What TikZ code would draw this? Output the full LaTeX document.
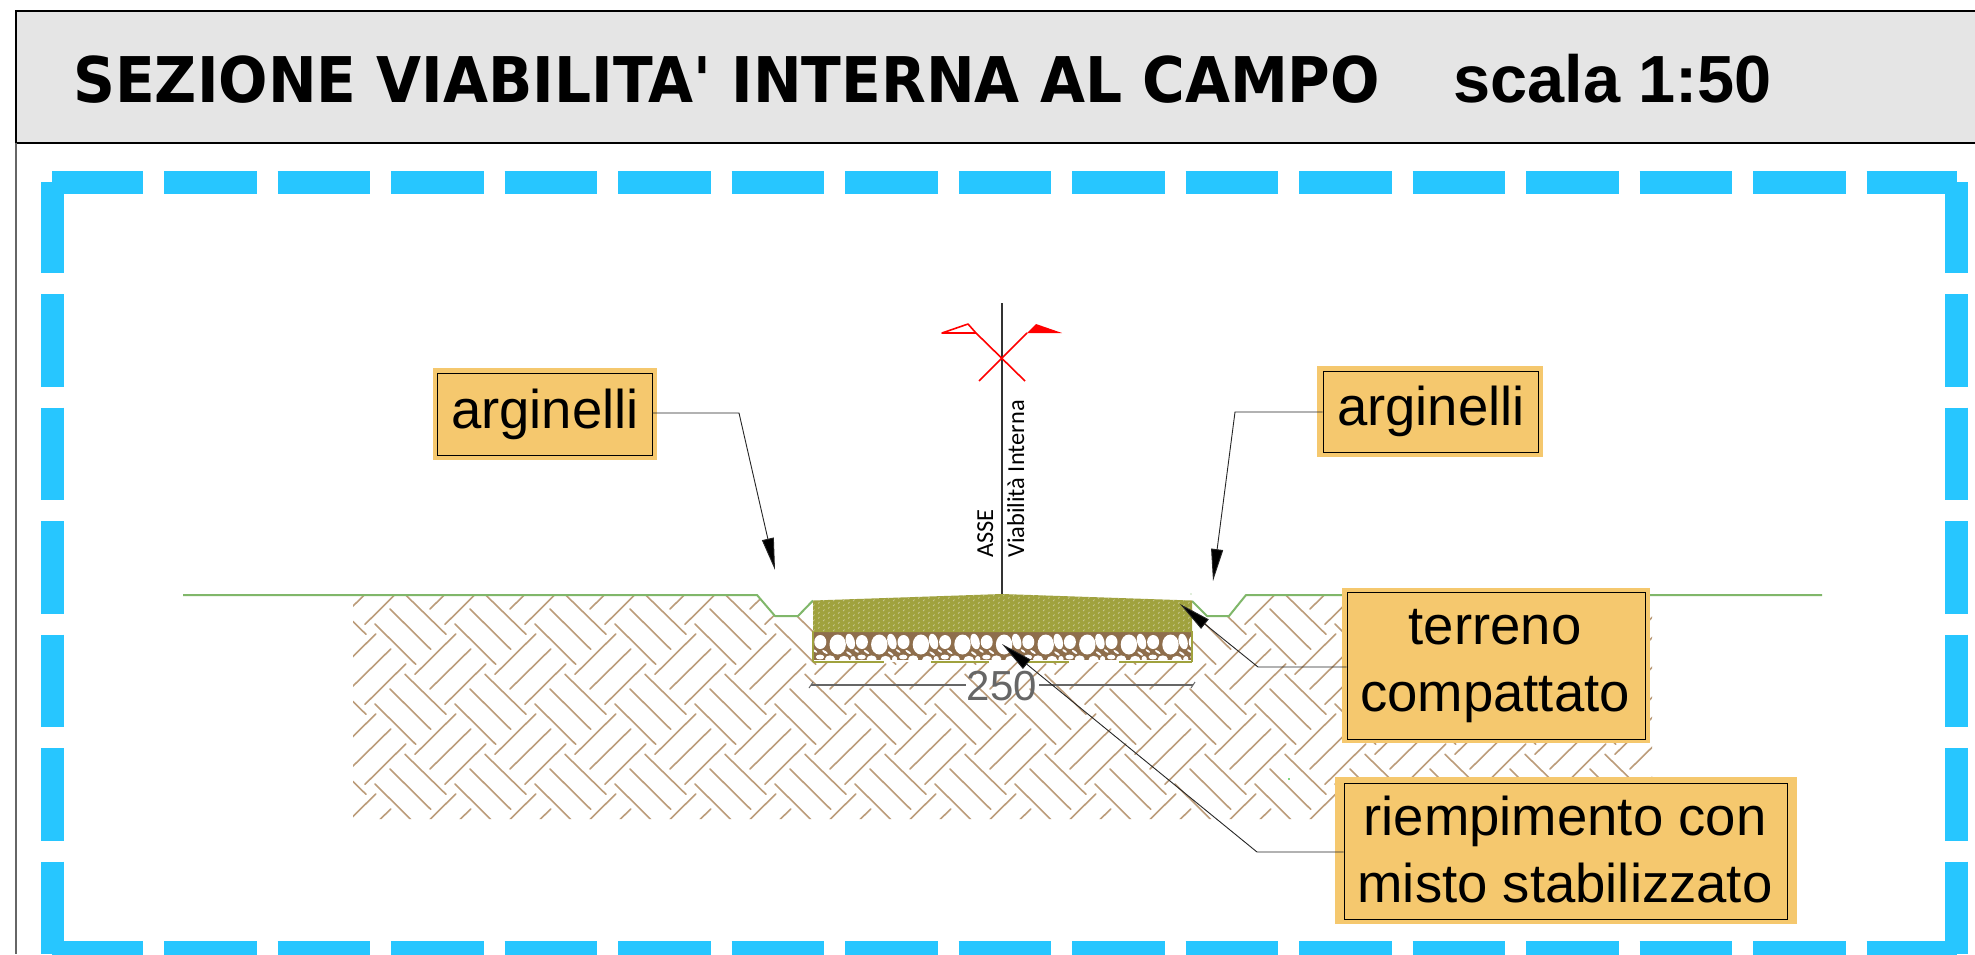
\documentclass[tikz,border=0pt]{standalone}
\usepackage{fontspec}
\usepackage{graphicx}
\usetikzlibrary{arrows.meta}
\setmainfont{Liberation Sans}
\newfontfamily\titlefont{DejaVu Sans}
\newfontfamily\axisfont{Carlito}
\definecolor{skyband}{HTML}{27C6FF}
\definecolor{headgrey}{HTML}{E5E5E5}
\definecolor{labelfill}{HTML}{F5C86E}
\definecolor{hatchbrown}{HTML}{BC9C7A}
\definecolor{groundgreen}{HTML}{80B76A}
\definecolor{roadolive}{HTML}{A0A23E}
\definecolor{stonebrown}{HTML}{8E6E4C}
\definecolor{dimgrey}{HTML}{666666}
\tikzset{
  band/.style={draw=skyband,line width=23pt,dash pattern=on 92.5pt off 21pt,dash phase=1.5pt},
  outerbox/.style={fill=labelfill,draw=none,inner sep=0pt},
  innerbox/.style={fill=labelfill,draw=black,line width=0.9pt,inner sep=0pt},
  labeltext/.style={inner sep=0pt,align=center,font=\fontsize{54.5}{66.7}\selectfont},
  leader/.style={draw=black!85,line width=0.9pt,-{Triangle[length=32pt,width=12pt,fill=black]}},
  hatchline/.style={draw=hatchbrown,line width=1.6pt,line cap=round},
  ground/.style={draw=groundgreen,line width=2pt,line join=round},
  axistext/.style={rotate=90,anchor=base west,inner sep=0pt,font=\axisfont\fontsize{24.4}{24.4}\selectfont},
  redmark/.style={draw=red,line width=1.6pt,line join=round},
  dimline/.style={draw=dimgrey,line width=1.4pt},
}
\begin{document}
\begin{tikzpicture}[x=1pt,y=-1pt]
\useasboundingbox (0,0) rectangle (1975,954);
\fill[white] (0,0) rectangle (1975,954);
% header
\fill[headgrey] (16,11) rectangle (1975,143);
\draw[black,line width=1.5pt] (1975,11) -- (16,11) -- (16,143) -- (1975,143);
\draw[black!60,line width=1.5pt] (16,143) -- (16,954);
\node[anchor=base west,inner sep=0pt] (title) at (73,102)
  {\resizebox{1307pt}{\height}{\titlefont\bfseries\fontsize{63}{70}\selectfont SEZIONE VIABILITA' INTERNA AL CAMPO}};
\node[anchor=base west,inner sep=0pt] (scala) at (1453,102)
  {\bfseries\fontsize{66.7}{70}\selectfont scala 1:50};
% dashed frame
\draw[band] (52,182) -- (1957,182);
\draw[band] (52,952.5) -- (1957,952.5);
\draw[band] (52.5,182) -- (52.5,954);
\draw[band] (1956,182) -- (1956,954);
% hatching
\begin{scope}
\clip (353,595) -- (757,595) -- (775,616) -- (798,616) -- (813,600.5) -- (813,640) -- (1192,640) -- (1192,601) -- (1207,616) -- (1229,616) -- (1246,595) -- (1652,595) -- (1652,819) -- (353,819) -- cycle;
\foreach \i in {-1,...,17}{
 \foreach \j in {-2,...,3}{
  \begin{scope}[shift={(80*\i,80*\j)}]
   \draw[hatchline] (390,609) -- (430.7,649.3) (405,594.3) -- (446,634.3) (375,624) -- (415.7,664.3);
   \draw[hatchline] (415,674.3) -- (455.7,634) (430,689) -- (470.7,649) (445,704.3) -- (485.7,664);
  \end{scope}
 }}
\end{scope}
\fill[green!70!black] (1289,779) circle (0.8pt);
% ground line
\draw[ground] (183,595) -- (757,595) -- (775,616) -- (798,616) -- (813,600.5);
\draw[ground] (1192,601) -- (1207,616) -- (1229,616) -- (1246,595) -- (1822,595);
% stones
\begin{scope}
\clip (813,631) rectangle (1192,662);
\fill[white] (813,631) rectangle (1192,662);
\fill[stonebrown] (813,631) rectangle (1192,660);
\foreach \k in {0,...,9}{
 \begin{scope}[shift={(813+41.6*\k,631)}]
  \fill[white] (7.3,11) ellipse [x radius=6,y radius=7];
  \fill[white] (24.7,13.5) ellipse [x radius=8.2,y radius=10];
  \fill[white,rotate around={15:(37.3,10.5)}] (37.3,10.5) ellipse [x radius=4.4,y radius=8];
  \fill[white] (7,26) ellipse [x radius=4.2,y radius=2.4];
  \fill[white] (17,28) ellipse [x radius=5,y radius=3.6];
  \fill[white] (31,28.5) ellipse [x radius=5,y radius=3.6];
  \fill[white] (40,28) ellipse [x radius=2.6,y radius=3];
  \fill[white,rotate around={-35:(12,21)}] (12,21) ellipse [x radius=3.2,y radius=1.1];
  \fill[white,rotate around={-35:(2,20)}] (2,20) ellipse [x radius=2.6,y radius=1];
  \fill[white,rotate around={-35:(36,22.5)}] (36,22.5) ellipse [x radius=3.4,y radius=1.1];
 \end{scope}}
\end{scope}
\draw[draw=roadolive,line width=1.5pt] (813,631) -- (813,662);
\draw[draw=roadolive,line width=1.5pt] (1192,631) -- (1192,662);
\draw[draw=roadolive,line width=1.5pt] (813,662) -- (884,662) (931,662) -- (989,662) (1021,662) -- (1069,662) (1119,662) -- (1192,662);
% compacted soil
\fill[roadolive] (813,600.5) -- (1002,594) -- (1192,600.5) -- (1192,632) -- (813,632) -- cycle;
\begin{scope}
\clip (813,600.5) -- (1002,594) -- (1192,600.5) -- (1192,632) -- (813,632) -- cycle;
\foreach \a in {0,...,76}{
 \foreach \b in {0,...,7}{
  \draw[white,opacity=.45,line width=.7pt]
    ({813+5*\a},{596+5*\b+mod(\a,2)*2.5}) -- ++(1.6,-1.4);
 }}
\end{scope}
\fill[groundgreen] (1191,594) circle (0.7pt);
% axis
\coordinate (axtop) at (1002,303);
\coordinate (axbot) at (1002,594);
\draw[black!80,line width=1.7pt] (axtop) -- (axbot);
\draw[redmark] (979,381) -- (1027,333);
\draw[redmark] (1025,381) -- (976,333) -- (968,324) -- (942,333) -- (976,333);
\fill[red] (1027,333) -- (1036,324) -- (1062,333) -- cycle;
\node[axistext] (asse) at (993,558) {ASSE};
\node[axistext] (vint) at (1024,558) {Viabilità Interna};
% dimension
\coordinate (dl) at (811,685);
\coordinate (dr) at (1193,685);
\node[inner sep=0pt,text=dimgrey,font=\fontsize{42}{42}\selectfont,anchor=base] (dimt) at (1002,700) {250};
\draw[dimline] (dl) -- (966,685) (1039,685) -- (dr);
\draw[dimline,line width=1pt] (809,688) -- (813,682) (1191,688) -- (1195,682);
% label boxes
\node[outerbox,minimum width=224pt,minimum height=92pt] (oa1) at (545,414) {};
\node[innerbox,minimum width=215pt,minimum height=82pt] (a1) at (544.5,414) {};
\node[labeltext,anchor=base] (ta1) at (545,428) {arginelli};
\node[outerbox,minimum width=226pt,minimum height=91pt] (oa2) at (1430,411.5) {};
\node[innerbox,minimum width=215pt,minimum height=81pt] (a2) at (1430.5,411.5) {};
\node[labeltext,anchor=base] (ta2) at (1431,425) {arginelli};
\node[outerbox,minimum width=308pt,minimum height=155pt] (ot) at (1496,665.5) {};
\node[innerbox,minimum width=298pt,minimum height=147pt] (bt) at (1496,665.5) {};
\node[labeltext] (tt) at (1495,666) {terreno\\compattato};
\node[outerbox,minimum width=462pt,minimum height=147pt] (or) at (1566,850.5) {};
\node[innerbox,minimum width=443pt,minimum height=136pt] (br) at (1565.5,851) {};
\node[labeltext] (tr) at (1565,849.5) {riempimento con\\misto stabilizzato};
% leaders
\coordinate (ka1) at (739,413);
\coordinate (pa1) at (775,570);
\coordinate (ka2) at (1235,412);
\coordinate (pa2) at (1213,581);
\coordinate (kt) at (1258,667);
\coordinate (pt) at (1180,604);
\coordinate (kr) at (1257,852);
\coordinate (pr) at (1002,644);
\draw[leader] (a1.east |- ka1) -- (ka1) -- (pa1);
\draw[leader] (a2.west |- ka2) -- (ka2) -- (pa2);
\draw[leader] (bt.west |- kt) -- (kt) -- (pt);
\draw[leader] (br.west |- kr) -- (kr) -- (pr);
\end{tikzpicture}
\end{document}
